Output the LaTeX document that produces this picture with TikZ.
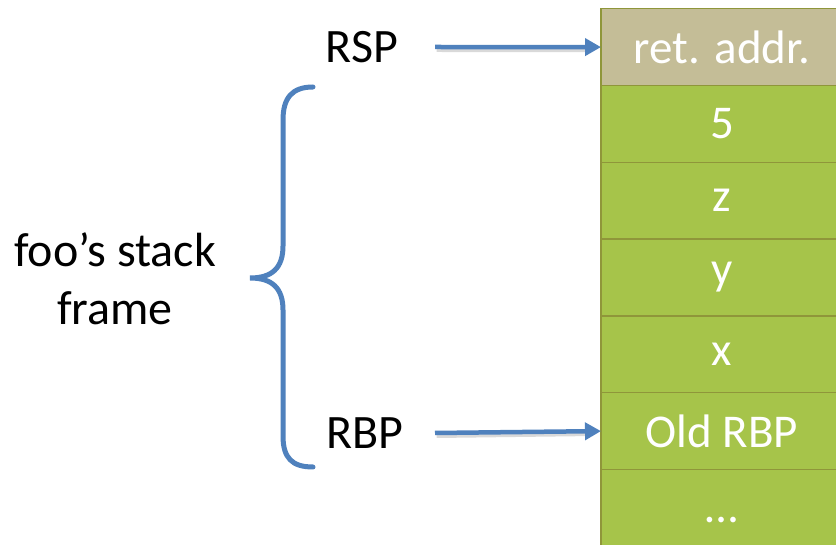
\documentclass[tikz,border=0pt]{standalone}
\usepackage{fontspec}
\setmainfont{Carlito}
\usetikzlibrary{arrows.meta,positioning}
\definecolor{tanfill}{RGB}{196,189,151}
\definecolor{cellgreen}{RGB}{166,196,74}
\definecolor{celledge}{RGB}{143,150,58}
\definecolor{ptrblue}{RGB}{79,129,189}
\tikzset{
  cell/.style={draw=celledge, line width=1.5pt, fill=cellgreen, text=white,
    minimum width=242pt, minimum height=76.8pt, inner sep=0pt, outer sep=0pt,
    font=\fontsize{47}{56}\selectfont},
  lbl/.style={text=black, inner sep=0pt, font=\fontsize{48}{58}\selectfont, align=center},
  ptr/.style={draw=ptrblue, line width=4.5pt, -{Triangle[length=16pt,width=17pt]}},
  ptrshadow/.style={draw=black, opacity=0.15, line width=5pt},
  brace/.style={draw=ptrblue, line width=5pt, line cap=round}
}
\begin{document}
\begin{tikzpicture}[x=1pt,y=-1pt]
\useasboundingbox (0,0) rectangle (836,545);
\fill[white] (0,0) rectangle (836,545);

% stack cells, top to bottom
\node[cell, fill=tanfill, anchor=north west] (ret) at (601,8.7) {ret. addr.};
\node[cell, below=0pt of ret] (five) {5};
\node[cell, below=0pt of five] (z) {z};
\node[cell, below=0pt of z] (y) {y};
\node[cell, below=0pt of y] (x) {x};
\node[cell, below=0pt of x] (oldrbp) {Old RBP};
\node[cell, below=0pt of oldrbp] (more) {};
\node[text=white, inner sep=0pt, font=\fontsize{47}{56}\selectfont] (dots) at ([yshift=-12pt]more.center) {\dots};

% register labels and pointers
\node[lbl] (rsp) at (362,47) {RSP};
\node[lbl] (rbp) at (365,433) {RBP};
\coordinate (rspTail) at (435,47);
\coordinate (rbpTail) at (435,433);
\draw[ptrshadow] ([shift={(1.5,2.5)}]rspTail) -- ([shift={(-14,2.5)}]ret.west);
\draw[ptrshadow] ([shift={(1.5,2.5)}]rbpTail) -- ([shift={(-14,2.5)}]oldrbp.west);
\draw[ptr] (rspTail) -- (ret.west);
\draw[ptr] (rbpTail) -- (oldrbp.west);

% brace marking the frame
\draw[brace] (313,87) .. controls (292,87) and (283,98) .. (283,120)
  -- (283,246) .. controls (283,268) and (272,278) .. (250,278)
  .. controls (272,278) and (283,288) .. (283,310)
  -- (283,436) .. controls (283,458) and (292,467) .. (313,467);
\node[lbl] (frame) at (115,279) {foo’s stack\\frame};
\end{tikzpicture}
\end{document}
